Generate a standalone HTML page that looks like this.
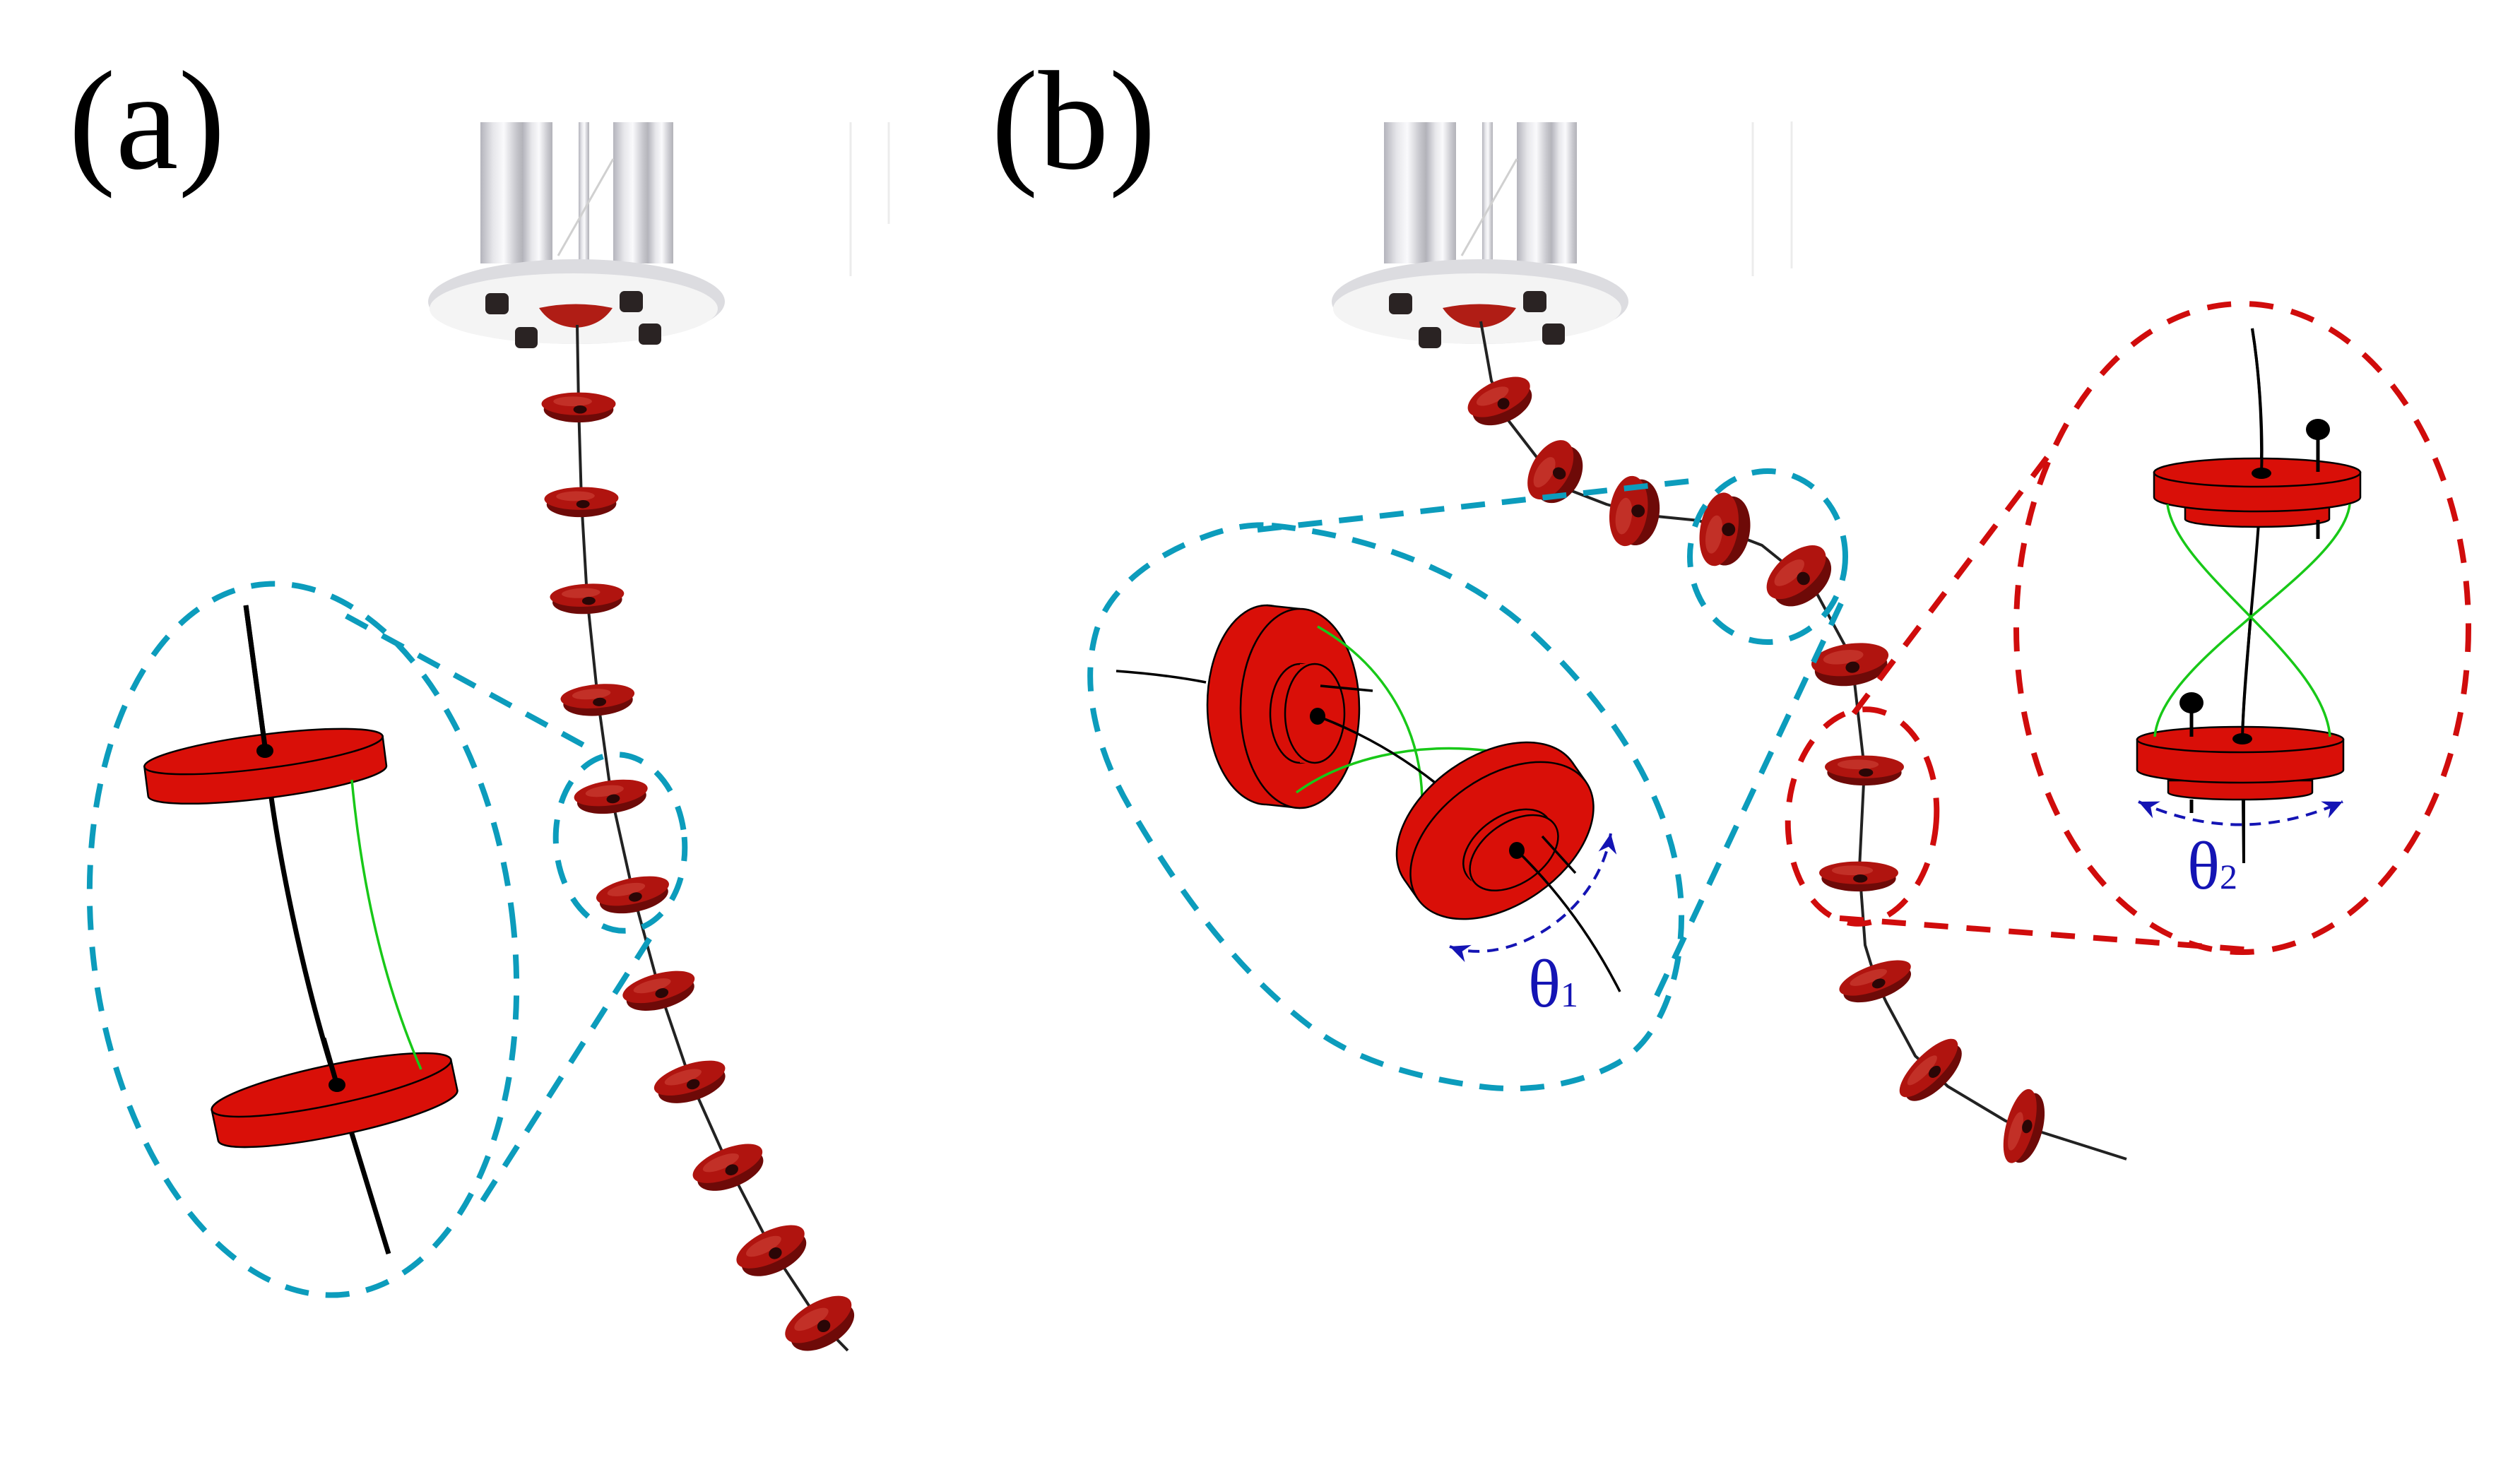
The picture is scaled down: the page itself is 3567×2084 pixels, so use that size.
<!DOCTYPE html>
<html>
<head>
<meta charset="utf-8">
<style>
html,body{margin:0;padding:0;background:#fff;}
svg{display:block;}
</style>
</head>
<body>
<svg xmlns="http://www.w3.org/2000/svg" width="3567" height="2084" viewBox="0 0 3567 2084">
<defs>
  <linearGradient id="tube" x1="0" x2="1" y1="0" y2="0">
    <stop offset="0" stop-color="#b4b4bc"/>
    <stop offset="0.3" stop-color="#e6e6ea"/>
    <stop offset="0.55" stop-color="#fafafc"/>
    <stop offset="0.85" stop-color="#c6c6cc"/>
    <stop offset="1" stop-color="#b2b2b8"/>
  </linearGradient>
  <g id="pd">
    <ellipse cx="0" cy="5" rx="47" ry="16" fill="#6e0a08"/>
    <ellipse cx="0" cy="-2" rx="50" ry="14" fill="#b0140f"/>
    <ellipse cx="-8" cy="-5" rx="26" ry="6" fill="#d2473c" opacity="0.55"/>
    <ellipse cx="2" cy="5" rx="9" ry="5" fill="#2a0606"/>
  </g>
  <marker id="ah" viewBox="-32 -16 34 32" refX="0" refY="0" markerWidth="34" markerHeight="32" markerUnits="userSpaceOnUse" orient="auto-start-reverse">
    <path d="M0,0 L-28,-13 L-19,0 L-28,13 Z" fill="#1414b4"/>
  </marker>
</defs>

<rect x="0" y="0" width="3567" height="2084" fill="#fff"/>

<!-- labels -->
<text x="97" y="238" font-family="'Liberation Serif', serif" font-size="200" fill="#000">(a)</text>
<text x="1403" y="238" font-family="'Liberation Serif', serif" font-size="200" fill="#000">(b)</text>

<!-- faint photo edge lines -->
<g stroke="#ececec" stroke-width="3">
  <line x1="1204" y1="173" x2="1204" y2="391"/>
  <line x1="1258" y1="173" x2="1258" y2="317"/>
  <line x1="2481" y1="173" x2="2481" y2="391"/>
  <line x1="2536" y1="172" x2="2536" y2="380"/>
</g>

<!-- base (a) -->
<g>
  <rect x="680" y="173" width="60" height="200" fill="url(#tube)"/>
  <rect x="740" y="173" width="42" height="200" fill="url(#tube)"/>
  <rect x="819" y="173" width="15" height="195" fill="url(#tube)"/>
  <rect x="868" y="173" width="50" height="200" fill="url(#tube)"/>
  <rect x="917" y="173" width="36" height="200" fill="url(#tube)"/>
  <path d="M790,362 L868,225" stroke="#d0d0d0" stroke-width="3" fill="none"/>
  <ellipse cx="816" cy="427" rx="210" ry="60" fill="#dcdce0"/>
  <ellipse cx="812" cy="437" rx="204" ry="50" fill="#f4f4f4"/>
  <rect x="687" y="415" width="33" height="30" rx="7" fill="#2a2323"/>
  <rect x="877" y="412" width="33" height="30" rx="7" fill="#2a2323"/>
  <rect x="729" y="463" width="32" height="30" rx="7" fill="#2a2323"/>
  <rect x="904" y="458" width="32" height="30" rx="7" fill="#2a2323"/>
  <path d="M763,436 Q815,425 867,436 Q850,462 815,464 Q780,462 763,436 Z" fill="#b01d15"/>
</g>
<!-- base (b) -->
<g transform="translate(1279,0)">
  <rect x="680" y="173" width="60" height="200" fill="url(#tube)"/>
  <rect x="740" y="173" width="42" height="200" fill="url(#tube)"/>
  <rect x="819" y="173" width="15" height="195" fill="url(#tube)"/>
  <rect x="868" y="173" width="50" height="200" fill="url(#tube)"/>
  <rect x="917" y="173" width="36" height="200" fill="url(#tube)"/>
  <path d="M790,362 L868,225" stroke="#d0d0d0" stroke-width="3" fill="none"/>
  <ellipse cx="816" cy="427" rx="210" ry="60" fill="#dcdce0"/>
  <ellipse cx="812" cy="437" rx="204" ry="50" fill="#f4f4f4"/>
  <rect x="687" y="415" width="33" height="30" rx="7" fill="#2a2323"/>
  <rect x="877" y="412" width="33" height="30" rx="7" fill="#2a2323"/>
  <rect x="729" y="463" width="32" height="30" rx="7" fill="#2a2323"/>
  <rect x="904" y="458" width="32" height="30" rx="7" fill="#2a2323"/>
  <path d="M763,436 Q815,425 867,436 Q850,462 815,464 Q780,462 763,436 Z" fill="#b01d15"/>
</g>

<!-- chain (a) -->
<polyline fill="none" stroke="#222" stroke-width="4" stroke-linejoin="round"
  points="817,460 819,574 823,708 831,845 846,988 865,1125 896,1264 933,1400 977,1529 1031,1650 1092,1768 1160,1871 1200,1912"/>
<use href="#pd" transform="translate(819,574) scale(1.05,1.15)"/>
<use href="#pd" transform="translate(823,708) rotate(-1) scale(1.05,1.15)"/>
<use href="#pd" transform="translate(831,845) rotate(-3) scale(1.05,1.15)"/>
<use href="#pd" transform="translate(846,988) rotate(-5) scale(1.05,1.2)"/>
<use href="#pd" transform="translate(865,1125) rotate(-8) scale(1.05,1.25)"/>
<use href="#pd" transform="translate(896,1264) rotate(-12) scale(1.05,1.3)"/>
<use href="#pd" transform="translate(933,1400) rotate(-15) scale(1.05,1.35)"/>
<use href="#pd" transform="translate(977,1529) rotate(-18) scale(1.05,1.4)"/>
<use href="#pd" transform="translate(1031,1650) rotate(-22) scale(1.05,1.5)"/>
<use href="#pd" transform="translate(1092,1768) rotate(-26) scale(1.05,1.6)"/>
<use href="#pd" transform="translate(1160,1871) rotate(-30) scale(1.05,1.7)"/>

<!-- chain (b) -->
<polyline fill="none" stroke="#222" stroke-width="4" stroke-linejoin="round"
  points="2096,455 2111,539 2123,565 2131,590 2175,647 2198,667 2217,692 2274,714 2309,724 2335,730 2405,737 2437,750 2494,772 2545,813 2571,839 2612,915 2619,937 2625,966 2639,1088 2632,1229 2640,1338 2655,1387 2670,1419 2711,1495 2732,1514 2757,1538 2839,1587 2862,1595 2890,1603 3010,1641"/>
<use href="#pd" transform="translate(2123,565) rotate(-25) scale(0.95,1.6)"/>
<use href="#pd" transform="translate(2198,667) rotate(-60) scale(0.92,1.9)"/>
<use href="#pd" transform="translate(2309,724) rotate(-82) scale(1.0,1.9)"/>
<use href="#pd" transform="translate(2437,750) rotate(-80) scale(1.05,1.9)"/>
<use href="#pd" transform="translate(2545,813) rotate(-40) scale(1.0,1.9)"/>
<use href="#pd" transform="translate(2619,937) rotate(-8) scale(1.1,1.6)"/>
<use href="#pd" transform="translate(2639,1088) scale(1.12,1.15)"/>
<use href="#pd" transform="translate(2631,1238) scale(1.12,1.15)"/>
<use href="#pd" transform="translate(2655,1387) rotate(-20) scale(1.07,1.3)"/>
<use href="#pd" transform="translate(2732,1514) rotate(-45) scale(1.1,1.4)"/>
<use href="#pd" transform="translate(2862,1595) rotate(-75) scale(1.08,1.4)"/>

<!-- teal dashed (a) -->
<g fill="none" stroke="#0c9cbc" stroke-width="8" stroke-dasharray="34 24">
  <ellipse cx="429" cy="1330" rx="298" ry="506" transform="rotate(-7 429 1330)"/>
  <ellipse cx="878" cy="1193" rx="91" ry="125" transform="rotate(-5 878 1193)"/>
  <line x1="490" y1="872" x2="826" y2="1055"/>
  <line x1="683" y1="1700" x2="922" y2="1325"/>
</g>

<!-- teal dashed (b) -->
<g fill="none" stroke="#0c9cbc" stroke-width="8" stroke-dasharray="34 24">
  <path d="M1800,744 C1932,757 2072,806 2169,896 C2269,989 2359,1115 2377,1251 C2389,1339 2367,1461 2290,1505 C2233,1537 2159,1547 2094,1538 C2011,1526 1924,1505 1857,1455 C1748,1373 1666,1258 1598,1141 C1556,1069 1528,974 1552,893 C1571,829 1639,784 1702,761 C1733,749 1767,741 1800,744 Z"/>
  <ellipse cx="2502" cy="788" rx="110" ry="121"/>
  <line x1="1780" y1="750" x2="2411" y2="679"/>
  <line x1="2345" y1="1410" x2="2608" y2="850"/>
</g>

<!-- red dashed (b) -->
<g fill="none" stroke="#d00c0c" stroke-width="8" stroke-dasharray="34 26">
  <ellipse cx="2636" cy="1156" rx="105" ry="152" transform="rotate(4 2636 1156)"/>
  <ellipse cx="3174" cy="889" rx="320" ry="459"/>
  <line x1="2624" y1="1010" x2="2910" y2="631"/>
  <line x1="2604" y1="1300" x2="3188" y2="1345"/>
</g>

<!-- (a) diagram -->
<path d="M348,857 L376,1064 C390,1200 430,1390 477,1536 L550,1775" fill="none" stroke="#000" stroke-width="7"/>
<g transform="translate(373,1064) rotate(-7.3)" fill="#d90f08" stroke="#000" stroke-width="2.5">
  <path d="M-170,0 L-170,42 A170,24 0 0 0 170,42 L170,0 Z"/>
  <ellipse cx="0" cy="0" rx="170" ry="24"/>
</g>
<g transform="translate(469,1536) rotate(-11.9)" fill="#d90f08" stroke="#000" stroke-width="2.5">
  <path d="M-173,0 L-173,44 A173,28 0 0 0 173,44 L173,0 Z"/>
  <ellipse cx="0" cy="0" rx="173" ry="28"/>
</g>
<path d="M348,857 L376,1064" fill="none" stroke="#000" stroke-width="7"/>
<path d="M458,1470 L477,1536" fill="none" stroke="#000" stroke-width="7"/>
<path d="M498,1104 Q520,1340 596,1514" fill="none" stroke="#18c818" stroke-width="3.5"/>
<ellipse cx="375" cy="1063" rx="12" ry="10" fill="#000"/>
<ellipse cx="477" cy="1536" rx="12" ry="10" fill="#000"/>

<!-- (b) teal diagram -->
<path d="M1580,950 Q1650,955 1707,966" fill="none" stroke="#000" stroke-width="3.5"/>
<g fill="#d90f08" stroke="#000" stroke-width="2.5">
  <ellipse cx="1793" cy="998" rx="84" ry="141"/>
  <polygon points="1793,857 1840,862 1840,1144 1793,1139" stroke="none"/>
  <line x1="1793" y1="857" x2="1840" y2="862"/>
  <line x1="1793" y1="1139" x2="1840" y2="1144"/>
  <ellipse cx="1840" cy="1003" rx="84" ry="141"/>
  <ellipse cx="1840" cy="1010" rx="42" ry="70"/>
  <polygon points="1840,940 1861,940 1861,1080 1840,1080" stroke="none"/>
  <ellipse cx="1861" cy="1010" rx="42" ry="70"/>
</g>
<path d="M1869,971 L1943,978" stroke="#000" stroke-width="3.5"/>
<path d="M1865,887 C1950,935 2010,1020 2013,1130" fill="none" stroke="#18c818" stroke-width="3.5"/>
<path d="M1835,1122 C1900,1075 2000,1050 2108,1063" fill="none" stroke="#18c818" stroke-width="3.5"/>
<path d="M1865,1014 Q1960,1050 2040,1115" fill="none" stroke="#000" stroke-width="3.5"/>
<ellipse cx="1865" cy="1014" rx="11" ry="12" fill="#000"/>
<g transform="translate(2126,1190) rotate(-35)" fill="#d90f08" stroke="#000" stroke-width="2.5">
  <ellipse cx="0" cy="-34" rx="145" ry="90"/>
  <rect x="-145" y="-34" width="290" height="34" stroke="none"/>
  <line x1="-145" y1="-34" x2="-145" y2="0"/>
  <line x1="145" y1="-34" x2="145" y2="0"/>
  <ellipse cx="0" cy="0" rx="145" ry="90"/>
  <ellipse cx="1" cy="12" rx="70" ry="43"/>
  <rect x="-68" y="12" width="140" height="12" stroke="none"/>
  <ellipse cx="4" cy="24" rx="70" ry="43"/>
</g>
<path d="M2147,1204 Q2235,1290 2293,1404" fill="none" stroke="#000" stroke-width="3.5"/>
<path d="M2183,1184 L2230,1236" stroke="#000" stroke-width="3.5"/>
<ellipse cx="2147" cy="1204" rx="11" ry="12" fill="#000"/>
<path d="M2052,1340 C2130,1370 2260,1300 2280,1180" fill="none" stroke="#1414b4" stroke-width="4" stroke-dasharray="16 11" marker-start="url(#ah)" marker-end="url(#ah)"/>
<text x="2163" y="1425" font-family="'Liberation Serif', serif" font-size="96" fill="#1414b4">θ<tspan font-size="50">1</tspan></text>

<!-- (b) red diagram -->
<path d="M3188,465 C3200,540 3203,620 3200,690 C3195,800 3176,950 3174,1046 L3176,1222" fill="none" stroke="#000" stroke-width="4"/>
<g fill="#d90f08" stroke="#000" stroke-width="2.5">
  <path d="M3093,718 L3093,735 A102,11 0 0 0 3297,735 L3297,718 Z"/>
  <path d="M3049,669 L3049,704 A146,20 0 0 0 3341,704 L3341,669 Z"/>
  <ellipse cx="3195" cy="669" rx="146" ry="20"/>
</g>
<line x1="3281" y1="608" x2="3281" y2="668" stroke="#000" stroke-width="5"/>
<line x1="3281" y1="736" x2="3281" y2="763" stroke="#000" stroke-width="5"/>
<ellipse cx="3281" cy="608" rx="17" ry="15" fill="#000"/>
<path d="M3188,465 C3200,540 3203,620 3201,670" fill="none" stroke="#000" stroke-width="4"/>
<ellipse cx="3201" cy="670" rx="14" ry="8" fill="#000"/>
<g fill="#d90f08" stroke="#000" stroke-width="2.5">
  <path d="M3069,1105 L3069,1122 A102,10 0 0 0 3273,1122 L3273,1105 Z"/>
  <path d="M3025,1047 L3025,1090 A146,18 0 0 0 3317,1090 L3317,1047 Z"/>
  <ellipse cx="3171" cy="1047" rx="146" ry="18"/>
</g>
<line x1="3102" y1="995" x2="3102" y2="1043" stroke="#000" stroke-width="5"/>
<line x1="3102" y1="1132" x2="3102" y2="1151" stroke="#000" stroke-width="5"/>
<ellipse cx="3102" cy="995" rx="17" ry="15" fill="#000"/>
<path d="M3176,1132 L3176,1222" fill="none" stroke="#000" stroke-width="4"/>
<path d="M3185,880 C3180,950 3175,1000 3174,1046" fill="none" stroke="#000" stroke-width="4"/>
<path d="M3068,714 C3080,810 3290,930 3298,1043" fill="none" stroke="#18c818" stroke-width="3.5"/>
<path d="M3326,714 C3315,810 3060,930 3050,1043" fill="none" stroke="#18c818" stroke-width="3.5"/>
<ellipse cx="3174" cy="1046" rx="14" ry="8" fill="#000"/>
<path d="M3027,1135 Q3171,1200 3316,1135" fill="none" stroke="#1414b4" stroke-width="4" stroke-dasharray="16 11" marker-start="url(#ah)" marker-end="url(#ah)"/>
<text x="3096" y="1258" font-family="'Liberation Serif', serif" font-size="96" fill="#1414b4">θ<tspan font-size="50">2</tspan></text>
</svg>
</body>
</html>
